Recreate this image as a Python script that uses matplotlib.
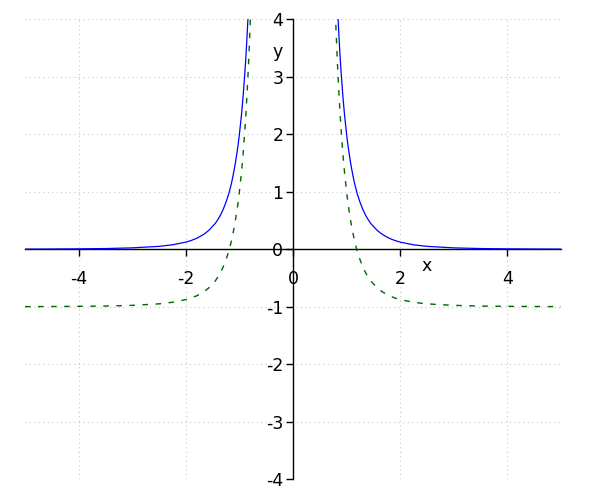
import matplotlib
matplotlib.use("Agg")
import matplotlib.pyplot as plt

# Values
x_right = [0.79, 0.80, 0.82, 0.84, 0.86, 0.88, 0.90, 0.93, 0.96, 1.00, 1.025, 1.05,
           1.075, 1.10, 1.125, 1.15, 1.175, 1.20, 1.25, 1.30, 1.35, 1.40, 1.45, 1.50,
           1.57, 1.65, 1.72, 1.80, 1.90, 2.00, 2.25, 2.50, 3.00, 3.50, 4.00, 4.50, 5.00]
x_left = [-5.00, -4.50, -4.00, -3.50, -3.00, -2.50, -2.25, -2.00, -1.90, -1.80, -1.72,
          -1.65, -1.57, -1.50, -1.45, -1.40, -1.35, -1.30, -1.25, -1.20, -1.175, -1.15,
          -1.125, -1.10, -1.075, -1.05, -1.025, -1.00, -0.96, -0.93, -0.90, -0.88,
          -0.86, -0.84, -0.82, -0.80, -0.79]

blue_right = [5.13, 4.88, 4.42, 4.02, 3.66, 3.33, 3.05, 2.67, 2.35, 2.00, 1.81, 1.65,
              1.50, 1.37, 1.25, 1.14, 1.05, 0.96, 0.82, 0.70, 0.60, 0.52, 0.45, 0.40,
              0.33, 0.27, 0.23, 0.19, 0.153, 0.125, 0.078, 0.051, 0.025, 0.013, 0.0078,
              0.0049, 0.0032]
blue_left = [0.0032, 0.0049, 0.0078, 0.013, 0.025, 0.051, 0.078, 0.125, 0.153, 0.19,
             0.23, 0.27, 0.33, 0.40, 0.45, 0.52, 0.60, 0.70, 0.82, 0.96, 1.05, 1.14,
             1.25, 1.37, 1.50, 1.65, 1.81, 2.00, 2.35, 2.67, 3.05, 3.33, 3.66, 4.02,
             4.42, 4.88, 5.13]

green_right = [4.13, 3.88, 3.42, 3.02, 2.66, 2.33, 2.05, 1.67, 1.35, 1.00, 0.81, 0.65,
               0.50, 0.37, 0.25, 0.14, 0.05, -0.04, -0.18, -0.30, -0.40, -0.48, -0.55,
               -0.60, -0.67, -0.73, -0.77, -0.81, -0.847, -0.875, -0.922, -0.949,
               -0.975, -0.987, -0.992, -0.995, -0.997]
green_left = [-0.997, -0.995, -0.992, -0.987, -0.975, -0.949, -0.922, -0.875, -0.847,
              -0.81, -0.77, -0.73, -0.67, -0.60, -0.55, -0.48, -0.40, -0.30, -0.18,
              -0.04, 0.05, 0.14, 0.25, 0.37, 0.50, 0.65, 0.81, 1.00, 1.35, 1.67, 2.05,
              2.33, 2.66, 3.02, 3.42, 3.88, 4.13]

x_ticks = [-4, -2, 0, 2, 4]
y_ticks = [-4, -3, -2, -1, 0, 1, 2, 3, 4]

fig = plt.figure(figsize=(6, 5), dpi=100)
ax = fig.add_axes([25 / 600, 20.7 / 500, 536 / 600, 460 / 500])

ax.plot(x_left, blue_left, color="#0000ff", lw=0.9, zorder=3)
ax.plot(x_right, blue_right, color="#0000ff", lw=0.9, zorder=3)
ax.plot(x_left, green_left, color="#006600", lw=1.0, dashes=(4.0, 5.4), zorder=3)
ax.plot(x_right, green_right, color="#006600", lw=1.0, dashes=(4.0, 5.4), zorder=3)

ax.set_xlim(-5, 5)
ax.set_ylim(-4, 4)
ax.set_xticks(x_ticks)
ax.set_yticks(y_ticks)
ax.set_xticklabels([str(v) for v in x_ticks])
ax.set_yticklabels([str(v) for v in y_ticks])

for s in ("top", "right"):
    ax.spines[s].set_visible(False)
ax.spines["left"].set_position(("data", 0))
ax.spines["bottom"].set_position(("data", 0))
ax.spines["left"].set_linewidth(1.0)
ax.spines["bottom"].set_linewidth(1.0)
ax.spines["left"].set_zorder(2)
ax.spines["bottom"].set_zorder(2)

ax.tick_params(axis="x", direction="out", length=5, width=1, pad=10, labelsize=12.5)
ax.tick_params(axis="y", direction="out", length=5, width=1, pad=2, labelsize=12.5)

ax.grid(True, color="#c8c8c8", linewidth=0.8, linestyle=(0, (1, 3)), zorder=0)
ax.set_axisbelow(True)

ax.set_xlabel("x", fontsize=12.5)
ax.set_ylabel("y", fontsize=12.5, rotation=0)
ax.xaxis.set_label_coords(0.75, 0.4637)
ax.yaxis.set_label_coords(0.472, 0.929)
ax.xaxis.label.set_va("center")
ax.xaxis.label.set_ha("center")
ax.yaxis.label.set_va("center")
ax.yaxis.label.set_ha("center")

fig.savefig("out.png", dpi=100)
